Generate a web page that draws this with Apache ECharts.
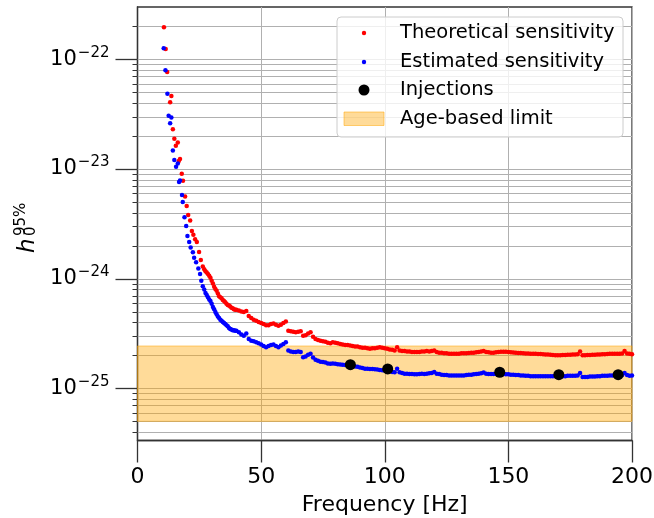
<!DOCTYPE html>
<html><head><meta charset="utf-8">
<script src="https://cdn.jsdelivr.net/npm/echarts@6/dist/echarts.min.js"></script>
<style>html,body{margin:0;padding:0;background:#fff}#c{width:654px;height:518px}</style>
</head><body><div id="c"></div>
<script>
// ---- data ----
const xTicks = [0, 50, 100, 150, 200];
const yMajor = [1e-25, 1e-24, 1e-23, 1e-22];
const yMinor = [4e-26,5e-26,6e-26,7e-26,8e-26,9e-26,
  2e-25,3e-25,4e-25,5e-25,6e-25,7e-25,8e-25,9e-25,
  2e-24,3e-24,4e-24,5e-24,6e-24,7e-24,8e-24,9e-24,
  2e-23,3e-23,4e-23,5e-23,6e-23,7e-23,8e-23,9e-23,
  2e-22];
const yMin = 3.34e-26, yMax = 3.0e-22;
const ageLimit = [5.0e-26, 2.43e-25];
const injectionFreq = [86.1, 101.2, 146.5, 170.4, 194.4];
const injectionH = [1.64e-25, 1.50e-25, 1.40e-25, 1.33e-25, 1.33e-25];

const theoretical = [
[10.7,1.96e-22],[11.4,1.24e-22],[12.0,7.66e-23],[13.2,4.05e-23],[13.7,4.62e-23],[14.3,2.30e-23],[14.9,1.89e-23],
[15.5,1.63e-23],[16.3,1.74e-23],[16.7,1.18e-23],[17.2,1.23e-23],[17.9,9.04e-24],[18.4,7.82e-24],[19.25,5.62e-24],
[19.9,4.59e-24],[20.5,3.80e-24],[21.3,3.39e-24],[22.0,2.72e-24],[22.6,2.51e-24],[23.3,2.29e-24],[24.0,2.16e-24],
[24.9,1.75e-24],[25.6,1.48e-24],[26.4,1.29e-24],
[27,1.22e-24],[27.5,1.17e-24],[28,1.14e-24],[28.5,1.10e-24],[29,1.06e-24],[29.5,1.02e-24],[30,9.55e-25],
[30.5,9.02e-25],[31,8.41e-25],[31.5,8.04e-25],[32,7.76e-25],[32.5,7.33e-25],[33,6.92e-25],[33.5,6.76e-25],
[34,6.61e-25],[34.5,6.38e-25],[35,6.24e-25],[35.5,6.10e-25],[36,5.89e-25],[36.5,5.75e-25],[37,5.69e-25],
[37.5,5.56e-25],[38,5.43e-25],[38.5,5.37e-25],[39,5.25e-25],[39.5,5.21e-25],[40,5.19e-25],
[41,5.13e-25],[42,5.01e-25],[43,4.95e-25],[44,5.07e-25],[45,4.57e-25],[46,4.37e-25],[47,4.22e-25],[48,4.12e-25],
[49,4.03e-25],[50,3.94e-25],[51,3.85e-25],[52,3.76e-25],[53,3.76e-25],[54,3.85e-25],[55,3.89e-25],[56,3.80e-25],
[57,3.72e-25],[58,3.80e-25],[59,3.94e-25],[60,4.07e-25],[61,3.35e-25],[62,3.31e-25],[63,3.27e-25],[64,3.24e-25],
[65,3.27e-25],[66,3.31e-25],[67,3.02e-25],[68,3.05e-25],[69,3.16e-25],[70,3.24e-25],[71,2.95e-25],[72,2.82e-25],
[73,2.75e-25],[74,2.72e-25],[75,2.69e-25],[76,2.66e-25],[77,2.60e-25],[78,2.57e-25],[79,2.63e-25],[80,2.60e-25],
[81,2.57e-25],[82,2.54e-25],[83,2.51e-25],[84,2.48e-25],[85,2.48e-25],[86,2.45e-25],[87,2.43e-25],[88,2.40e-25],
[89,2.40e-25],[90,2.37e-25],[91,2.34e-25],[92,2.34e-25],[93,2.32e-25],[94,2.29e-25],[95,2.32e-25],[96,2.32e-25],
[97,2.34e-25],[98,2.37e-25],[99,2.34e-25],[100,2.32e-25],[101,2.29e-25],[102,2.26e-25],[103,2.24e-25],[104,2.21e-25],
[105,2.37e-25],[106,2.21e-25],[107,2.19e-25],[108,2.19e-25],[109,2.16e-25],[110,2.16e-25],[111,2.14e-25],[112,2.14e-25],
[113,2.14e-25],[114,2.14e-25],[115,2.16e-25],[116,2.16e-25],[117,2.19e-25],[118,2.16e-25],[119,2.19e-25],[120,2.21e-25],
[121,2.14e-25],[122,2.11e-25],[123,2.11e-25],[124,2.09e-25],[125,2.09e-25],[126,2.07e-25],[127,2.07e-25],[128,2.06e-25],
[129,2.07e-25],[130,2.07e-25],[131,2.09e-25],[132,2.09e-25],[133,2.09e-25],[134,2.10e-25],[135,2.11e-25],[136,2.11e-25],
[137,2.13e-25],[138,2.14e-25],[139,2.16e-25],[140,2.19e-25],[141,2.14e-25],[142,2.13e-25],[143,2.11e-25],[144,2.11e-25],
[145,2.13e-25],[146,2.14e-25],[147,2.15e-25],[148,2.15e-25],[149,2.15e-25],[150,2.14e-25],[151,2.13e-25],[152,2.12e-25],
[153,2.11e-25],[154,2.10e-25],[155,2.10e-25],[156,2.09e-25],[157,2.08e-25],[158,2.08e-25],[159,2.07e-25],[160,2.07e-25],
[161,2.06e-25],[162,2.05e-25],[163,2.05e-25],[164,2.04e-25],[165,2.03e-25],[166,2.03e-25],[167,2.02e-25],[168,2.01e-25],
[169,2.00e-25],[170,2.00e-25],[171,2.00e-25],[172,2.01e-25],[173,2.01e-25],[174,2.02e-25],[175,2.02e-25],[176,2.03e-25],
[177,2.03e-25],[178,2.04e-25],[179,2.16e-25],[180,2.00e-25],[181,2.00e-25],[182,2.01e-25],[183,2.01e-25],[184,2.02e-25],
[185,2.02e-25],[186,2.03e-25],[187,2.03e-25],[188,2.04e-25],[189,2.04e-25],[190,2.05e-25],[191,2.06e-25],[192,2.06e-25],
[193,2.07e-25],[194,2.07e-25],[195,2.07e-25],[196,2.08e-25],[197,2.19e-25],[198,2.08e-25],[199,2.06e-25],[200,2.04e-25]
];

const estimated = [
[10.6,1.26e-22],[11.3,7.94e-23],[12.1,4.85e-23],[12.6,3.06e-23],[13.2,2.61e-23],[13.7,2.94e-23],[14.3,1.47e-23],
[14.9,1.21e-23],[15.6,1.05e-23],[16.3,1.12e-23],[16.8,7.59e-24],[17.2,7.85e-24],[18.0,5.78e-24],[18.3,5.01e-24],
[19.0,3.63e-24],[19.7,3.02e-24],[20.2,2.45e-24],[20.9,2.16e-24],[21.5,1.92e-24],[22.4,1.74e-24],[22.9,1.55e-24],
[23.7,1.41e-24],[24.6,1.24e-24],[25.3,1.10e-24],[25.8,9.55e-25],[26.4,8.51e-25],
[27,7.94e-25],[27.5,7.41e-25],[28,7.08e-25],[28.5,6.76e-25],[29,6.46e-25],[29.5,6.24e-25],[30,5.89e-25],
[30.5,5.50e-25],[31,5.25e-25],[31.5,4.95e-25],[32,4.73e-25],[32.5,4.52e-25],[33,4.37e-25],[33.5,4.22e-25],
[34,4.12e-25],[34.5,4.03e-25],[35,3.94e-25],[35.5,3.85e-25],[36,3.76e-25],[36.5,3.67e-25],[37,3.55e-25],
[37.5,3.47e-25],[38,3.43e-25],[38.5,3.39e-25],[39,3.39e-25],[39.5,3.35e-25],[40,3.35e-25],
[41,3.24e-25],[42,3.09e-25],[43,3.02e-25],[44,3.16e-25],[45,2.82e-25],[46,2.72e-25],[47,2.69e-25],[48,2.63e-25],
[49,2.57e-25],[50,2.51e-25],[51,2.43e-25],[52,2.37e-25],[53,2.43e-25],[54,2.48e-25],[55,2.51e-25],[56,2.43e-25],
[57,2.37e-25],[58,2.45e-25],[59,2.54e-25],[60,2.63e-25],[61,2.21e-25],[62,2.16e-25],[63,2.14e-25],[64,2.14e-25],
[65,2.16e-25],[66,2.14e-25],[67,1.92e-25],[68,1.95e-25],[69,2.02e-25],[70,2.06e-25],[71,1.91e-25],[72,1.82e-25],
[73,1.78e-25],[74,1.75e-25],[75,1.74e-25],[76,1.72e-25],[77,1.68e-25],[78,1.67e-25],[79,1.68e-25],[80,1.67e-25],
[81,1.66e-25],[82,1.65e-25],[83,1.64e-25],[84,1.63e-25],[85,1.62e-25],[86,1.62e-25],[87,1.60e-25],[88,1.58e-25],
[89,1.57e-25],[90,1.55e-25],[91,1.53e-25],[92,1.51e-25],[93,1.51e-25],[94,1.50e-25],[95,1.50e-25],[96,1.49e-25],
[97,1.48e-25],[98,1.47e-25],[99,1.46e-25],[100,1.45e-25],[101,1.45e-25],[102,1.43e-25],[103,1.41e-25],[104,1.40e-25],
[105,1.51e-25],[106,1.40e-25],[107,1.38e-25],[108,1.36e-25],[109,1.36e-25],[110,1.35e-25],[111,1.35e-25],[112,1.34e-25],
[113,1.34e-25],[114,1.35e-25],[115,1.36e-25],[116,1.35e-25],[117,1.36e-25],[118,1.37e-25],[119,1.38e-25],[120,1.41e-25],
[121,1.36e-25],[122,1.35e-25],[123,1.33e-25],[124,1.32e-25],[125,1.32e-25],[126,1.31e-25],[127,1.31e-25],[128,1.31e-25],
[129,1.31e-25],[130,1.31e-25],[131,1.31e-25],[132,1.31e-25],[133,1.32e-25],[134,1.33e-25],[135,1.33e-25],[136,1.34e-25],
[137,1.35e-25],[138,1.36e-25],[139,1.37e-25],[140,1.39e-25],[141,1.36e-25],[142,1.35e-25],[143,1.35e-25],[144,1.35e-25],
[145,1.35e-25],[146,1.35e-25],[147,1.35e-25],[148,1.35e-25],[149,1.34e-25],[150,1.34e-25],[151,1.33e-25],[152,1.33e-25],
[153,1.32e-25],[154,1.32e-25],[155,1.31e-25],[156,1.31e-25],[157,1.30e-25],[158,1.30e-25],[159,1.29e-25],[160,1.29e-25],
[161,1.29e-25],[162,1.29e-25],[163,1.29e-25],[164,1.29e-25],[165,1.29e-25],[166,1.29e-25],[167,1.29e-25],[168,1.29e-25],
[169,1.29e-25],[170,1.29e-25],[171,1.29e-25],[172,1.29e-25],[173,1.29e-25],[174,1.30e-25],[175,1.30e-25],[176,1.30e-25],
[177,1.30e-25],[178,1.31e-25],[179,1.38e-25],[180,1.27e-25],[181,1.27e-25],[182,1.27e-25],[183,1.28e-25],[184,1.28e-25],
[185,1.28e-25],[186,1.29e-25],[187,1.29e-25],[188,1.30e-25],[189,1.30e-25],[190,1.30e-25],[191,1.31e-25],[192,1.31e-25],
[193,1.31e-25],[194,1.31e-25],[195,1.31e-25],[196,1.32e-25],[197,1.38e-25],[198,1.32e-25],[199,1.30e-25],[200,1.31e-25]
];

const legendLabels = ['Theoretical sensitivity', 'Estimated sensitivity', 'Injections', 'Age-based limit'];

// ---- chart ----
const FONT = 'DejaVu Sans';
const AX = '#333333';
const GRID = '#b0b0b0';
const BAND_FILL = 'rgba(255,165,0,0.4)';
const BAND_EDGE = 'rgba(255,165,0,0.5)';
const TOP = 100;
const chart = echarts.init(document.getElementById('c'), null, {renderer: 'canvas'});

const injections = injectionFreq.map((f, i) => [f, injectionH[i]]);
const gridRows = yMajor.concat(yMinor).map(v => [0, v]);
const bandRows = [[xTicks[0], ageLimit[0], xTicks[xTicks.length - 1], ageLimit[1]]];

function yLabel(v) {
  if (!(v > 0)) return '';
  const lg = Math.log10(v), e = Math.round(lg);
  if (!(Math.abs(lg - e) < 1e-6)) return '';
  return '{b|10}{s|\u2212' + Math.abs(e) + '}';
}

// horizontal grid lines and y ticks (major + minor) placed through the y scale
function renderGridRow(params, api) {
  const v = api.value(1);
  const y = Math.round(api.coord([0, v])[1]) + 0.5;
  const cs = params.coordSys;
  const major = yMajor.indexOf(v) >= 0;
  return {type: 'group', children: [
    {type: 'line', shape: {x1: cs.x, y1: y, x2: cs.x + cs.width, y2: y}, style: {stroke: GRID, lineWidth: 1}},
    {type: 'line', shape: {x1: cs.x - (major ? 22 : 5), y1: y, x2: cs.x, y2: y},
     style: {stroke: AX, lineWidth: major ? 1.3 : 1}}
  ]};
}
function renderBand(params, api) {
  const p0 = api.coord([api.value(0), api.value(1)]);
  const p1 = api.coord([api.value(2), api.value(3)]);
  return {type: 'rect', shape: {x: p0[0], y: p1[1], width: p1[0] - p0[0], height: p0[1] - p1[1]},
          style: {fill: BAND_FILL, stroke: BAND_EDGE, lineWidth: 1}};
}

const legendItems = [];
const ly = [33, 62, 90, 118.5];
legendItems.push({type: 'rect', z: TOP, shape: {x: 337, y: 17, width: 286, height: 120, r: 4},
  style: {fill: 'rgba(255,255,255,0.8)', stroke: '#cccccc', lineWidth: 1}});
legendItems.push({type: 'circle', z: TOP + 1, shape: {cx: 364, cy: ly[0], r: 2.2}, style: {fill: '#ff0000'}});
legendItems.push({type: 'circle', z: TOP + 1, shape: {cx: 364, cy: ly[1], r: 2.2}, style: {fill: '#0000ff'}});
legendItems.push({type: 'circle', z: TOP + 1, shape: {cx: 364, cy: ly[2], r: 5.5}, style: {fill: '#000000'}});
legendItems.push({type: 'rect', z: TOP + 1, shape: {x: 344, y: 112, width: 40, height: 13.5},
  style: {fill: BAND_FILL, stroke: BAND_EDGE, lineWidth: 1}});
legendLabels.forEach((t, i) => legendItems.push({type: 'text', z: TOP + 1, x: 400, y: ly[i],
  style: {text: t, font: '19.5px "' + FONT + '"', fill: '#000', verticalAlign: 'middle', align: 'left'}}));

const option = {
  animation: false,
  backgroundColor: '#ffffff',
  textStyle: {fontFamily: FONT},
  grid: {left: 137.5, right: 22, top: 7, bottom: 77.5, show: true, borderColor: AX, borderWidth: 1.3,
         backgroundColor: 'transparent', containLabel: false, outerBoundsMode: 'none'},
  xAxis: {
    type: 'value', min: 0, max: 200, interval: 50,
    axisLine: {show: true, onZero: false, lineStyle: {color: AX, width: 1.3}},
    axisTick: {show: true, length: 22, lineStyle: {color: AX, width: 1.3}},
    axisLabel: {fontSize: 22, color: '#000', margin: 26, fontFamily: FONT, showMinLabel: true, showMaxLabel: true,
                customValues: xTicks},
    splitLine: {show: true, lineStyle: {color: GRID, width: 1}},
    name: 'Frequency [Hz]', nameLocation: 'middle', nameGap: 54,
    nameTextStyle: {fontSize: 22, color: '#000', fontFamily: FONT}
  },
  yAxis: {
    type: 'log', logBase: 10, min: yMin, max: yMax, position: 'left',
    axisLine: {show: true, lineStyle: {color: AX, width: 1.3}},
    axisTick: {show: false},
    axisLabel: {margin: 28, formatter: yLabel, color: '#000', showMinLabel: false, showMaxLabel: false,
      rich: {b: {fontSize: 21, fontFamily: FONT, color: '#000'},
             s: {fontSize: 15, fontFamily: FONT, color: '#000', padding: [0, 0, 13, 1]}}},
    splitLine: {show: false},
    minorTick: {show: false}, minorSplitLine: {show: false}
  },
  series: [
    {type: 'custom', name: 'ygrid', data: gridRows, renderItem: renderGridRow, silent: true, clip: false, z: 1},
    {type: 'custom', name: legendLabels[3], data: bandRows, renderItem: renderBand, silent: true, z: 2},
    {name: legendLabels[0], type: 'scatter', data: theoretical, symbol: 'circle', symbolSize: 4.5,
     itemStyle: {color: '#ff0000', opacity: 1}, z: 3},
    {name: legendLabels[1], type: 'scatter', data: estimated, symbol: 'circle', symbolSize: 4.5,
     itemStyle: {color: '#0000ff', opacity: 1}, z: 4},
    {name: legendLabels[2], type: 'scatter', data: injections, symbol: 'circle', symbolSize: 11,
     itemStyle: {color: '#000000', opacity: 1}, z: 5}
  ],
  graphic: {
    elements: [
      {type: 'group', z: TOP, children: legendItems},
      {type: 'group', x: 28.5, y: 253, rotation: Math.PI / 2, z: TOP, children: [
        {type: 'text', z: TOP, x: 0, y: 0, style: {text: 'h', font: 'italic 23px "' + FONT + '"', fill: '#000', align: 'left', verticalAlign: 'middle'}},
        {type: 'text', z: TOP, x: 17, y: 3, style: {text: '0', font: '15px "' + FONT + '"', fill: '#000', align: 'left', verticalAlign: 'middle'}},
        {type: 'text', z: TOP, x: 17, y: -7.5, style: {text: '95%', font: '15px "' + FONT + '"', fill: '#000', align: 'left', verticalAlign: 'middle'}}
      ]}
    ]
  }
};
chart.setOption(option);
</script>
</body></html>
